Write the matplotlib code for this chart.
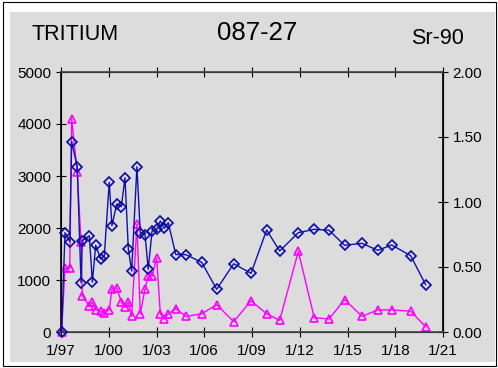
import matplotlib
matplotlib.use("Agg")
import matplotlib.pyplot as plt
from matplotlib.patches import Rectangle

plt.rcParams['font.family'] = ['Liberation Sans', 'DejaVu Sans']

# sample dates as decimal years
dates = [1997.04, 1997.25, 1997.55, 1997.67, 1998.02, 1998.26, 1998.34, 1998.78,
         1998.97, 1999.18, 1999.49, 1999.72, 2000.03, 2000.20, 2000.50, 2000.79,
         2001.02, 2001.23, 2001.44, 2001.77, 2001.98, 2002.28, 2002.48, 2002.72,
         2003.01, 2003.24, 2003.49, 2003.74, 2004.21, 2004.85, 2005.84, 2006.78,
         2007.85, 2008.94, 2009.92, 2010.74, 2011.91, 2012.91, 2013.84, 2014.82,
         2015.91, 2016.90, 2017.78, 2018.97, 2019.91]

tritium = [0, 1910, 1740, 3660, 3180, 950, 1756, 1850,
           960, 1667, 1404, 1462, 2879, 2044, 2462, 2410,
           2967, 1596, 1173, 3179, 1910, 1872, 1205, 1942,
           1975, 2135, 1994, 2103, 1490, 1487, 1340, 821,
           1313, 1128, 1962, 1558, 1910, 1975, 1956, 1667,
           1705, 1571, 1673, 1468, 910]

sr90 = [0.00, 0.49, 0.49, 1.64, 1.23, 0.69, 0.28, 0.20,
        0.23, 0.17, 0.16, 0.15, 0.17, 0.33, 0.34, 0.23,
        0.19, 0.23, 0.12, 0.83, 0.14, 0.33, 0.43, 0.43,
        0.57, 0.14, 0.10, 0.14, 0.18, 0.12, 0.14, 0.21,
        0.08, 0.24, 0.14, 0.09, 0.62, 0.11, 0.10, 0.25,
        0.12, 0.17, 0.17, 0.16, 0.04]

year_ticks = list(range(1997, 2022, 3))
year_labels = ['1/%02d' % (y % 100) for y in year_ticks]
left_ticks = [0, 1000, 2000, 3000, 4000, 5000]
right_ticks = [0.0, 0.5, 1.0, 1.5, 2.0]

panel = '#dcdcdc'
fig = plt.figure(figsize=(4.98, 3.68), dpi=100, facecolor='white')
fig.patches.append(Rectangle((0.006, 0.005), 0.99, 0.99, transform=fig.transFigure,
                             facecolor='none', edgecolor='black', lw=0.8, zorder=-2))
fig.patches.append(Rectangle((10 / 498, 1 - 362 / 368), 485 / 498, 350 / 368,
                             transform=fig.transFigure, facecolor=panel,
                             edgecolor='none', zorder=-1))

ax = fig.add_axes([61 / 498, 1 - 332 / 368, 382 / 498, 260 / 368])
ax.set_facecolor(panel)
ax.plot(dates, tritium, color='#1010b0', lw=1, marker='D', ms=4.8,
        mfc='none', mec='#0a0aa0', mew=1.2, clip_on=False, zorder=3)
ax.set_xlim(1997, 2021)
ax.set_ylim(0, 5000)
ax.set_xticks(year_ticks)
ax.set_xticklabels(year_labels)
ax.set_yticks(left_ticks)
ax.tick_params(direction='inout', length=7, labelsize=11, colors='black')
ax.tick_params(axis='x', top=True, pad=5)
for s in ax.spines.values():
    s.set_linewidth(1.2)
ax.spines['bottom'].set_color('#444444')
ax.spines['top'].set_color('#444444')

ax2 = ax.twinx()
ax2.plot(dates, sr90, color='#ff00ff', lw=1, marker='^', ms=5.5,
         mfc='none', mec='#ff00ff', mew=1.2, clip_on=False)
ax2.set_ylim(0, 2)
ax2.set_yticks(right_ticks)
ax2.set_yticklabels(['%.2f' % v for v in right_ticks])
ax2.tick_params(direction='inout', length=7, labelsize=11)
ax.set_zorder(ax2.get_zorder() + 1)
ax.patch.set_visible(False)
ax2.patch.set_facecolor(panel)

fig.text(75 / 498, 1 - 35 / 368, 'TRITIUM', ha='center', va='center', fontsize=15.5)
fig.text(257 / 498, 1 - 33 / 368, '087-27', ha='center', va='center', fontsize=18.5)
fig.text(437 / 498, 1 - 38 / 368, 'Sr-90', ha='center', va='center', fontsize=15.5)

fig.savefig('out.png', dpi=100, facecolor='white')
